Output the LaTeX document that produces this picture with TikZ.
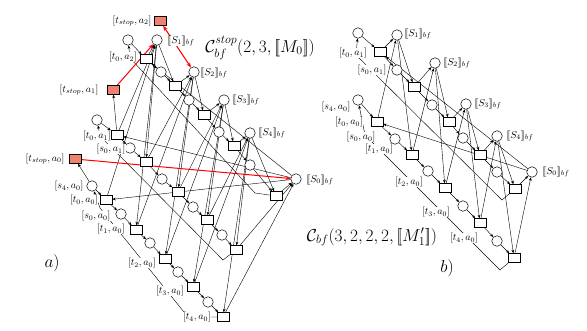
\documentclass[tikz,border=0pt]{standalone}
\usepackage{amsmath}
\usetikzlibrary{arrows.meta,backgrounds}
\definecolor{salm}{RGB}{240,128,112}
\newcommand{\Sbf}[1]{$[\![S_{#1}]\!]_{bf}$}
\begin{document}
\begin{tikzpicture}[x=1pt,y=-1pt,
  pl/.style={circle,draw,minimum size=10.5pt,inner sep=0pt,fill=white,line width=0.5pt},
  tk/.style={pl,path picture={\fill (path picture bounding box.center) circle (2.2pt);}},
  tr/.style={rectangle,draw,minimum width=12pt,minimum height=9pt,inner sep=0pt,fill=white,line width=0.5pt},
  stp/.style={tr,fill=salm},
  lb/.style={fill=white,inner sep=0.2pt,font=\normalsize},
  ttl/.style={font=\fontsize{16.5}{20}\selectfont},
  ar/.style={-{Stealth[length=3.5pt,width=2.8pt]},line width=0.4pt},
  rar/.style={-{Stealth[length=5pt,width=4pt]},red,line width=1pt}]
\useasboundingbox (0,0) rectangle (587,330);

% ---------------- (a) ----------------
\node[pl] (aS0) at (296,179) {};
\node[pl] (aS1) at (157,40) {};
\node[pl] (aS2) at (194,72) {};
\node[tk] (aS3) at (224,100) {};
\node[tk] (aS4) at (250,133) {};

\node[tr] (aT00) at (106,200) {};
\node[tr] (aT01) at (136,230) {};
\node[tr] (aT02) at (165,259) {};
\node[tr] (aT03) at (193,287) {};
\node[tr] (aT04) at (223,317) {};
\node[tr] (aT10) at (117,135) {};
\node[tr] (aT11) at (146,162) {};
\node[tr] (aT12) at (178,192) {};
\node[tr] (aT13) at (207,220) {};
\node[tr] (aT14) at (236,250) {};
\node[tr] (aT20) at (146,59) {};
\node[tr] (aT21) at (175,86) {};
\node[tr] (aT22) at (204,115) {};
\node[tr] (aT23) at (234,146) {};
\node[tr] (aT24) at (276,196) {};

\node[tk] (aP0s) at (92,186) {};
\node[pl] (aP00) at (121,214) {};
\node[pl] (aP01) at (150,243) {};
\node[pl] (aP02) at (178,272) {};
\node[pl] (aP03) at (208,302) {};
\node[pl] (aP1s) at (97,120) {};
\node[tk] (aP10) at (130,148) {};
\node[pl] (aP11) at (162,179) {};
\node[pl] (aP12) at (193,207) {};
\node[pl] (aP13) at (222,235) {};
\node[pl] (aP2s) at (128,40) {};
\node[pl] (aP20) at (161,72) {};
\node[tk] (aP21) at (189,100) {};
\node[pl] (aP22) at (219,132) {};
\node[pl] (aP23) at (250,165) {};

\node[stp] (aQ2) at (160,21) {};
\node[stp] (aQ1) at (113,90) {};
\node[stp] (aQ0) at (75,159) {};

\coordinate (ra0a) at (188,317);
\coordinate (ra0b) at (100,208);
\coordinate (ra1a) at (223,260);
\coordinate (ra1b) at (100,136);
\coordinate (ra2a) at (255,193);
\coordinate (ra2b) at (130,58);

% ---------------- (b) ----------------
\node[tk] (bS0) at (532,172) {};
\node[pl] (bS1) at (397,35) {};
\node[pl] (bS2) at (435,63) {};
\node[tk] (bS3) at (466,104) {};
\node[tk] (bS4) at (497,136) {};

\node[pl] (bP1s) at (358,33) {};
\node[tr] (bT10) at (380,52) {};
\node[pl] (bP10) at (397,70) {};
\node[tr] (bT11) at (414,87) {};
\node[tk] (bP11) at (432,105) {};
\node[tr] (bT12) at (449,122) {};
\node[pl] (bP12) at (463,138) {};
\node[tr] (bT13) at (480,155) {};
\node[pl] (bP13) at (497,172) {};
\node[tr] (bT14) at (515,189) {};

\node[pl] (bP0s) at (358,100) {};
\node[tr] (bT00) at (377,122) {};
\node[tk] (bP00) at (395,139) {};
\node[tr] (bT01) at (412,155) {};
\node[pl] (bP01) at (428,171) {};
\node[tr] (bT02) at (445,188) {};
\node[pl] (bP02) at (463,206) {};
\node[tr] (bT03) at (480,223) {};
\node[pl] (bP03) at (497,241) {};
\node[tr] (bT04) at (514,258) {};

\coordinate (rb0a) at (500,270);
\coordinate (rb0b) at (365,135);
\coordinate (rb1a) at (502,200);
\coordinate (rb1b) at (356,55);

% ---------------- arcs ----------------
\begin{scope}[on background layer]
\foreach \i in {0,1,2} {
  \foreach \k in {0,...,4} {
    \pgfmathtruncatemacro\n{mod(\k+1,5)}
    \draw[ar] (aS\k) -- (aT\i\k);
    \draw[ar] (aT\i\k) -- (aS\n);
  }
  \draw[ar] (aP\i s) -- (aT\i0);
  \foreach \k in {0,...,3} {
    \pgfmathtruncatemacro\n{\k+1}
    \draw[ar] (aT\i\k) -- (aP\i\k);
    \draw[ar] (aP\i\k) -- (aT\i\n);
  }
}
\foreach \i in {0,1} {
  \foreach \k in {0,...,4} {
    \pgfmathtruncatemacro\n{mod(\k+1,5)}
    \draw[ar] (bS\k) -- (bT\i\k);
    \draw[ar] (bT\i\k) -- (bS\n);
  }
  \draw[ar] (bP\i s) -- (bT\i0);
  \foreach \k in {0,...,3} {
    \pgfmathtruncatemacro\n{\k+1}
    \draw[ar] (bT\i\k) -- (bP\i\k);
    \draw[ar] (bP\i\k) -- (bT\i\n);
  }
}
\draw[ar] (aT04) -- (ra0a) -- (ra0b) -- (aP0s);
\draw[ar] (aT14) -- (ra1a) -- (ra1b) -- (aP1s);
\draw[ar] (aT24) -- (ra2a) -- (ra2b) -- (aP2s);
\draw[ar] (bT04) -- (rb0a) -- (rb0b) -- (bP0s);
\draw[ar] (bT14) -- (rb1a) -- (rb1b) -- (bP1s);
\draw[ar] (aP0s) -- (aQ0);
\draw[ar] (aT10) -- (aQ1);
\draw[rar] (aQ1) -- (aS1);
\draw[rar] (aQ0) -- (aS0);
\draw[rar,{Stealth[length=5pt,width=4pt]}-{Stealth[length=5pt,width=4pt]}] (aQ2) -- (aS2);
\end{scope}

% ---------------- labels (a) ----------------
\node[lb] at (132,21) {$[t_{stop},a_2]$};
\node[lb] at (181,41) {\Sbf1};
\node[lb] at (214,73) {\Sbf2};
\node[lb] at (246,100) {\Sbf3};
\node[lb] at (272,133) {\Sbf4};
\node[lb] at (320,180) {\Sbf0};
\node[lb] at (123,57) {$[t_0,a_2]$};
\node[lb] at (79,90) {$[t_{stop},a_1]$};
\node[lb] at (97,136) {$[t_0,a_1]$};
\node[lb] at (111,149) {$[s_0,a_1]$};
\node[lb] at (45,159) {$[t_{stop},a_0]$};
\node[lb] at (69,186) {$[s_4,a_0]$};
\node[lb] at (84,200) {$[t_0,a_0]$};
\node[lb] at (96,216) {$[s_0,a_0]$};
\node[lb] at (111,229) {$[t_1,a_0]$};
\node[lb] at (142,263) {$[t_2,a_0]$};
\node[lb] at (170,291) {$[t_3,a_0]$};
\node[lb] at (197,317) {$[t_4,a_0]$};
\node[ttl] at (260,48) {$\mathcal{C}^{stop}_{bf}(2,3,[\![M_0]\!])$};
\node at (52,263) {\LARGE $a)$};

% ---------------- labels (b) ----------------
\node[lb] at (418,34) {\Sbf1};
\node[lb] at (457,63) {\Sbf2};
\node[lb] at (488,104) {\Sbf3};
\node[lb] at (520,136) {\Sbf4};
\node[lb] at (556,172) {\Sbf0};
\node[lb] at (353,53) {$[t_0,a_1]$};
\node[lb] at (372,70) {$[s_0,a_1]$};
\node[lb] at (336,107) {$[s_4,a_0]$};
\node[lb] at (349,122) {$[t_0,a_0]$};
\node[lb] at (361,137) {$[s_0,a_0]$};
\node[lb] at (379,149) {$[t_1,a_0]$};
\node[lb] at (409,182) {$[t_2,a_0]$};
\node[lb] at (436,212) {$[t_3,a_0]$};
\node[lb] at (464,238) {$[t_4,a_0]$};
\node[ttl] at (372,237) {$\mathcal{C}_{bf}(3,2,2,2,[\![M'_1]\!])$};
\node at (447,268) {\LARGE $b)$};
\end{tikzpicture}
\end{document}
